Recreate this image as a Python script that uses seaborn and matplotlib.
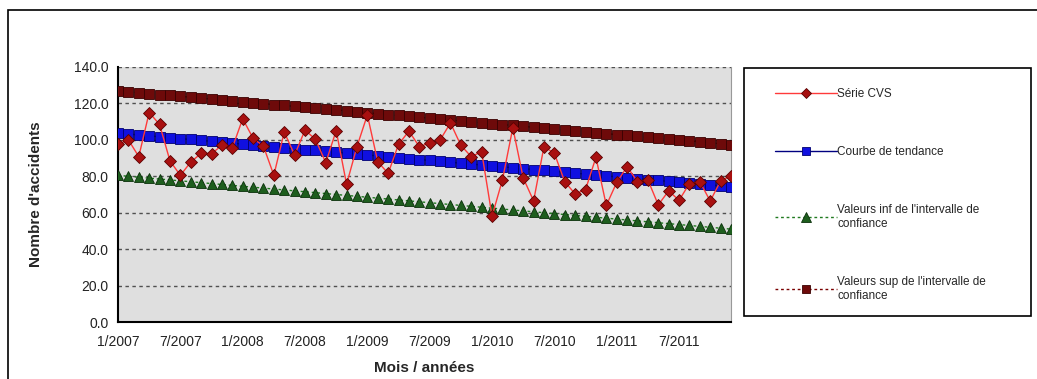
import numpy as np
import pandas as pd
import matplotlib
matplotlib.use("Agg")
import matplotlib.pyplot as plt
import seaborn as sns
from matplotlib.patches import Rectangle

sns.set_style("white")
plt.rcParams['font.family'] = ['Liberation Sans', 'DejaVu Sans']

# ---- data ----
months = [f"{m}/{y}" for y in range(2007, 2012) for m in range(1, 13)]
tick_labels = ["1/2007", "7/2007", "1/2008", "7/2008", "1/2009", "7/2009",
               "1/2010", "7/2010", "1/2011", "7/2011"]

serie_cvs = [97.6, 100.0, 90.8, 115.0, 108.5, 88.5, 80.5, 87.8, 92.6, 92.4,
             97.0, 95.5, 111.6, 100.9, 96.5, 80.6, 104.3, 91.7, 105.4, 100.3,
             87.5, 105.1, 75.6, 96.3, 113.7, 88.0, 81.6, 97.5, 104.8, 96.3,
             98.2, 99.9, 109.3, 97.0, 90.8, 93.5, 58.1, 78.0, 106.6, 79.1,
             66.5, 96.3, 92.6, 77.0, 70.3, 72.7, 90.4, 64.0, 76.6, 85.3,
             77.0, 78.0, 64.3, 72.0, 66.8, 76.0, 77.0, 66.4, 77.5, 80.2]

tendance = [103.7, 103.2, 102.7, 102.2, 101.7, 101.2, 100.7, 100.2, 99.7, 99.2,
            98.7, 98.2, 97.7, 97.2, 96.7, 96.2, 95.7, 95.2, 94.7, 94.2,
            93.7, 93.2, 92.7, 92.2, 91.7, 91.2, 90.7, 90.2, 89.7, 89.2,
            88.7, 88.2, 87.7, 87.2, 86.7, 86.2, 85.7, 85.2, 84.7, 84.2,
            83.7, 83.2, 82.7, 82.2, 81.7, 81.2, 80.7, 80.2, 79.7, 79.2,
            78.7, 78.2, 77.7, 77.2, 76.7, 76.2, 75.7, 75.2, 74.7, 74.2]

borne_inf = [80.5, 80.0, 79.5, 79.0, 78.5, 78.0, 77.5, 77.0, 76.5, 76.0,
             75.5, 75.0, 74.5, 74.0, 73.5, 73.0, 72.5, 72.0, 71.5, 71.0,
             70.5, 70.0, 69.5, 69.0, 68.5, 68.0, 67.5, 67.0, 66.5, 66.0,
             65.5, 65.0, 64.5, 64.0, 63.5, 63.0, 62.5, 62.0, 61.5, 61.0,
             60.5, 60.0, 59.5, 59.0, 58.5, 58.0, 57.5, 57.0, 56.5, 56.0,
             55.5, 55.0, 54.5, 54.0, 53.5, 53.0, 52.5, 52.0, 51.5, 51.0]

borne_sup = [126.9, 126.4, 125.9, 125.4, 124.9, 124.4, 123.9, 123.4, 122.9, 122.4,
             121.9, 121.4, 120.9, 120.4, 119.9, 119.4, 118.9, 118.4, 117.9, 117.4,
             116.9, 116.4, 115.9, 115.4, 114.9, 114.4, 113.9, 113.4, 112.9, 112.4,
             111.9, 111.4, 110.9, 110.4, 109.9, 109.4, 108.9, 108.4, 107.9, 107.4,
             106.9, 106.4, 105.9, 105.4, 104.9, 104.4, 103.9, 103.4, 102.9, 102.4,
             101.9, 101.4, 100.9, 100.4, 99.9, 99.4, 98.9, 98.4, 97.9, 97.4]

df = pd.DataFrame({"idx": np.arange(len(months)), "mois": months,
                   "cvs": serie_cvs, "tend": tendance,
                   "inf": borne_inf, "sup": borne_sup})

W, H = 1037, 379
fig = plt.figure(figsize=(W / 100, H / 100), dpi=100)
fig.patch.set_facecolor("white")

# outer chart border
fig.patches.append(Rectangle((8 / W, -0.05), 1.2, 1 - 10 / H + 0.05,
                             transform=fig.transFigure, fill=False,
                             edgecolor="black", linewidth=1.2, zorder=0))

ax = fig.add_axes([118 / W, 1 - 322 / H, (731 - 118) / W, (322 - 67) / H])
ax.set_facecolor("#dfdfdf")

sns.lineplot(data=df, x="idx", y="sup", ax=ax, color="#7a0000", linestyle=(0, (2, 2)),
             linewidth=1, marker="s", markersize=7.2, markerfacecolor="#6e0a0a",
             markeredgecolor="#3a0000", markeredgewidth=0.6,
             label="Valeurs sup de l'intervalle de\nconfiance", zorder=3)
sns.lineplot(data=df, x="idx", y="inf", ax=ax, color="#1f7a1f", linestyle=(0, (2, 2)),
             linewidth=1, marker="^", markersize=7.8, markerfacecolor="#1e5e1e",
             markeredgecolor="#0a300a", markeredgewidth=0.6,
             label="Valeurs inf de l'intervalle de\nconfiance", zorder=3)
sns.lineplot(data=df, x="idx", y="tend", ax=ax, color="#000080", linewidth=1,
             marker="s", markersize=7.2, markerfacecolor="#1010e0",
             markeredgecolor="#000070", markeredgewidth=0.6,
             label="Courbe de tendance", zorder=4)
sns.lineplot(data=df, x="idx", y="cvs", ax=ax, color="#ff3a3a", linewidth=1,
             marker="D", markersize=6.5, markerfacecolor="#a81010",
             markeredgecolor="#5a0000", markeredgewidth=0.6,
             label="Série CVS", zorder=5)

ax.set_xlim(0, len(months) - 1)
ax.set_ylim(0, 140)
ax.set_yticks(np.arange(0, 141, 20))
ax.set_yticklabels([f"{v:.1f}" for v in np.arange(0, 141, 20)], fontsize=10, color="#222222")
tick_pos = [months.index(t) for t in tick_labels]
ax.set_xticks(tick_pos)
ax.set_xticklabels(tick_labels, fontsize=10, color="#222222")
ax.set_xticks(np.arange(len(months)), minor=True)
ax.tick_params(axis="x", which="both", direction="inout", length=6, width=1, color="black", pad=6)
ax.tick_params(axis="y", direction="out", length=4, width=1, color="black", pad=3)

for v in np.arange(20, 141, 20):
    ax.axhline(v, color="#505050", linestyle=(0, (2.5, 2.5)), linewidth=1, zorder=1)

ax.spines["top"].set_visible(False)
ax.spines["right"].set_color("#999999")
ax.spines["left"].set_color("black")
ax.spines["left"].set_linewidth(1.5)
ax.spines["bottom"].set_color("black")
ax.spines["bottom"].set_linewidth(1.5)

ax.set_xlabel("Mois / années", fontsize=11, fontweight="bold", labelpad=9)
ax.set_ylabel("Nombre d'accidents", fontsize=11, fontweight="bold", labelpad=22)

# legend
handles, labels = ax.get_legend_handles_labels()
order = [3, 2, 1, 0]
ax.legend([handles[i] for i in order], [labels[i] for i in order],
          loc="upper left", bbox_to_anchor=(769 / W, 1 - 82 / H),
          bbox_transform=fig.transFigure, frameon=False, fontsize=8.5,
          handlelength=5.3, handletextpad=0.0, labelspacing=3.9, borderpad=0,
          markerscale=0.85)
fig.patches.append(Rectangle((744 / W, 1 - 316 / H), (1031 - 744) / W, (316 - 68) / H,
                             transform=fig.transFigure, fill=False,
                             edgecolor="black", linewidth=1.2))

fig.savefig("out.png", dpi=100)
